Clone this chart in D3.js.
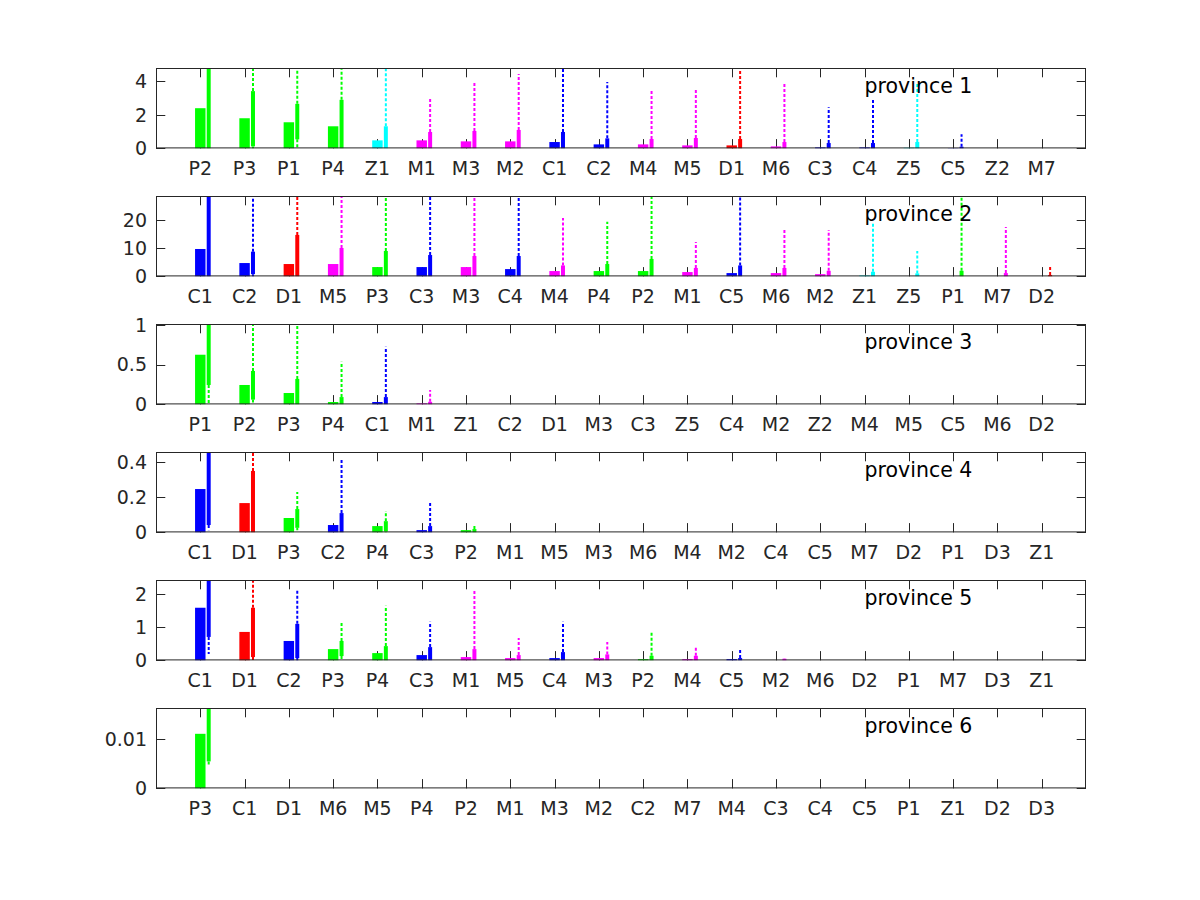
<!DOCTYPE html>
<html>
<head>
<meta charset="utf-8">
<script src="https://d3js.org/d3.v7.min.js"></script>
<style>
  html, body { margin: 0; padding: 0; background: #fff; }
  svg { display: block; }
</style>
</head>
<body>
<div id="chart"></div>
<script>
// ---------- data ----------
const provinces = ["province 1", "province 2", "province 3", "province 4", "province 5", "province 6"];

const categories = [
  ["P2","P3","P1","P4","Z1","M1","M3","M2","C1","C2","M4","M5","D1","M6","C3","C4","Z5","C5","Z2","M7"],
  ["C1","C2","D1","M5","P3","C3","M3","C4","M4","P4","P2","M1","C5","M6","M2","Z1","Z5","P1","M7","D2"],
  ["P1","P2","P3","P4","C1","M1","Z1","C2","D1","M3","C3","Z5","C4","M2","Z2","M4","M5","C5","M6","D2"],
  ["C1","D1","P3","C2","P4","C3","P2","M1","M5","M3","M6","M4","M2","C4","C5","M7","D2","P1","D3","Z1"],
  ["C1","D1","C2","P3","P4","C3","M1","M5","C4","M3","P2","M4","C5","M2","M6","D2","P1","M7","D3","Z1"],
  ["P3","C1","D1","M6","M5","P4","P2","M1","M3","M2","C2","M7","M4","C3","C4","C5","P1","Z1","D2","D3"]
];

// bar values (wide bars)
const barValues = [
  [2.4, 1.8, 1.56, 1.32, 0.48, 0.48, 0.42, 0.42, 0.38, 0.24, 0.24, 0.18, 0.18, 0.12, 0.06, 0.06, 0.04, 0.02, 0, 0],
  [9.75, 4.75, 4.4, 4.4, 3.32, 3.32, 3.32, 2.6, 1.9, 1.9, 1.9, 1.54, 1.18, 1.18, 0.8, 0.35, 0, 0, 0, 0],
  [0.624, 0.244, 0.143, 0.03, 0.03, 0.013, 0, 0, 0, 0, 0, 0, 0, 0, 0, 0, 0, 0, 0, 0],
  [0.247, 0.167, 0.082, 0.042, 0.036, 0.013, 0.013, 0, 0, 0, 0, 0, 0, 0, 0, 0, 0, 0, 0, 0],
  [1.585, 0.857, 0.585, 0.34, 0.22, 0.16, 0.1, 0.07, 0.07, 0.07, 0.04, 0.04, 0.04, 0, 0, 0, 0, 0, 0, 0],
  [0.011, 0, 0, 0, 0, 0, 0, 0, 0, 0, 0, 0, 0, 0, 0, 0, 0, 0, 0, 0]
];

// distribution: lower quartile, upper quartile, minimum, maximum
const lowerQ = [
  [0, 0.12, 0.54, 0, 0, 0, 0, 0, 0, 0, 0, 0, 0, 0, 0, 0, 0, 0, 0, 0],
  [0, 0.8, 0, 0, 0, 0, 0, 0, 0, 0, 0, 0, 0, 0, 0, 0, 0, 0, 0, 0],
  [0.244, 0.06, 0, 0, 0, 0, 0, 0, 0, 0, 0, 0, 0, 0, 0, 0, 0, 0, 0, 0],
  [0.042, 0, 0.026, 0, 0.005, 0, 0, 0, 0, 0, 0, 0, 0, 0, 0, 0, 0, 0, 0, 0],
  [0.706, 0.1, 0.07, 0.13, 0, 0, 0, 0, 0, 0, 0, 0, 0, 0, 0, 0, 0, 0, 0, 0],
  [0.00544, 0, 0, 0, 0, 0, 0, 0, 0, 0, 0, 0, 0, 0, 0, 0, 0, 0, 0, 0]
];
const upperQ = [
  [5.5, 3.42, 2.66, 2.9, 1.32, 0.98, 1.04, 1.1, 0.98, 0.6, 0.56, 0.62, 0.56, 0.38, 0.32, 0.32, 0.38, 0.1, 0, 0],
  [35, 8.8, 14.75, 10.1, 9.03, 7.6, 7.25, 7.25, 3.9, 4.4, 6.2, 3.0, 3.9, 3.0, 2.0, 1.65, 1.07, 2.0, 1.18, 0.5],
  [1.5, 0.42, 0.32, 0.092, 0.092, 0.033, 0, 0, 0, 0, 0, 0, 0, 0, 0, 0, 0, 0, 0, 0],
  [0.7, 0.35, 0.133, 0.11, 0.064, 0.036, 0.019, 0, 0, 0, 0, 0, 0, 0, 0, 0, 0, 0, 0, 0],
  [3.0, 1.585, 1.1, 0.585, 0.43, 0.4, 0.34, 0.16, 0.25, 0.18, 0.14, 0.14, 0.07, 0.05, 0, 0, 0, 0, 0, 0],
  [0.03, 0, 0, 0, 0, 0, 0, 0, 0, 0, 0, 0, 0, 0, 0, 0, 0, 0, 0, 0]
];
const minValues = [
  [0, 0, 0, 0, 0, 0, 0, 0, 0, 0, 0, 0, 0, 0, 0, 0, 0, 0, 0, 0],
  [0, 0, 0, 0, 0, 0, 0, 0, 0, 0, 0, 0, 0, 0, 0, 0, 0, 0, 0, 0],
  [0, 0, 0, 0, 0, 0, 0, 0, 0, 0, 0, 0, 0, 0, 0, 0, 0, 0, 0, 0],
  [0.012, 0, 0.012, 0, 0, 0, 0, 0, 0, 0, 0, 0, 0, 0, 0, 0, 0, 0, 0, 0],
  [0.19, 0, 0, 0, 0, 0, 0, 0, 0, 0, 0, 0, 0, 0, 0, 0, 0, 0, 0, 0],
  [0.0045, 0, 0, 0, 0, 0, 0, 0, 0, 0, 0, 0, 0, 0, 0, 0, 0, 0, 0, 0]
];
const maxValues = [
  [6, 6, 6, 6, 6, 3.0, 3.96, 4.44, 6, 3.96, 3.48, 3.48, 6, 3.96, 2.46, 2.94, 3.96, 0.84, 0, 0],
  [40, 35, 35, 35, 35, 35, 35, 35, 20.8, 19.4, 35, 12.25, 35, 16.5, 16.5, 19.4, 9.03, 35, 17.6, 3.6],
  [2, 1.5, 1.5, 0.535, 0.725, 0.18, 0, 0, 0, 0, 0, 0, 0, 0, 0, 0, 0, 0, 0, 0],
  [0.8, 0.7, 0.23, 0.419, 0.122, 0.173, 0.036, 0, 0, 0, 0, 0, 0, 0, 0, 0, 0, 0, 0, 0],
  [3.5, 3.0, 2.13, 1.16, 1.645, 1.16, 2.13, 0.676, 1.16, 0.555, 0.89, 0.43, 0.31, 0.06, 0, 0, 0, 0, 0, 0],
  [0.04, 0, 0, 0, 0, 0, 0, 0, 0, 0, 0, 0, 0, 0, 0, 0, 0, 0, 0, 0]
];

const yMax = [4.8, 28.6, 1.01, 0.458, 2.42, 0.0162];
const yTicks = [[0, 2, 4], [0, 10, 20], [0, 0.5, 1], [0, 0.2, 0.4], [0, 1, 2], [0, 0.01]];

const groupColors = { P: "#00ff00", Z: "#00ffff", M: "#ff00ff", C: "#0000ff", D: "#ff0000" };

// ---------- layout ----------
const W = 1200, H = 900;
const left = 156, right = 1086;
const top0 = 68, step = 128, ph = 80.4;
const tickLen = 9.3;
const axisColor = "#262626";
const fontFam = "'DejaVu Sans', sans-serif";

const svg = d3.select("#chart").append("svg")
  .attr("width", W).attr("height", H)
  .style("background", "#fff");

const x = d3.scaleLinear().domain([0, 21]).range([left, right]);
const barHalf = 0.118;   // data units
const boxOff = 0.19;
const boxHalf = 0.045;

provinces.forEach((name, p) => {
  const top = top0 + step * p;
  const bottom = top + ph;
  const y = d3.scaleLinear().domain([0, yMax[p]]).range([bottom, top]);
  const g = svg.append("g");

  const clipId = "clip" + p;
  svg.append("defs").append("clipPath").attr("id", clipId)
    .append("rect").attr("x", left).attr("y", top).attr("width", right - left).attr("height", ph);

  // tick marks (under data)
  const xt = d3.range(1, 21);
  const tg = g.append("g").attr("stroke", axisColor).attr("stroke-width", 1);
  xt.forEach(k => {
    const xx = Math.round(x(k)) + 0.5;
    tg.append("line").attr("x1", xx).attr("x2", xx).attr("y1", bottom).attr("y2", bottom - tickLen);
    tg.append("line").attr("x1", xx).attr("x2", xx).attr("y1", top).attr("y2", top + tickLen);
  });
  yTicks[p].forEach(v => {
    const yy = Math.round(y(v)) + 0.5;
    tg.append("line").attr("x1", left).attr("x2", left + tickLen).attr("y1", yy).attr("y2", yy);
    tg.append("line").attr("x1", right).attr("x2", right - tickLen).attr("y1", yy).attr("y2", yy);
  });

  // data
  const dg = g.append("g").attr("clip-path", `url(#${clipId})`);
  categories[p].forEach((c, i) => {
    const k = i + 1;
    const col = groupColors[c[0]];
    const bv = barValues[p][i];
    if (bv > 0) {
      dg.append("rect")
        .attr("x", x(k - barHalf)).attr("width", x(k + barHalf) - x(k - barHalf))
        .attr("y", y(bv)).attr("height", y(0) - y(bv))
        .attr("fill", col);
    }
    const q1 = lowerQ[p][i], q3 = upperQ[p][i], lo = minValues[p][i], hi = maxValues[p][i];
    const cx = x(k + boxOff);
    if (hi > q3) {
      dg.append("line").attr("x1", cx).attr("x2", cx)
        .attr("y1", y(q3)).attr("y2", y(hi))
        .attr("stroke", col).attr("stroke-width", 2).attr("stroke-dasharray", "3,2");
    }
    if (q1 > lo) {
      dg.append("line").attr("x1", cx).attr("x2", cx)
        .attr("y1", y(q1)).attr("y2", y(lo))
        .attr("stroke", col).attr("stroke-width", 2).attr("stroke-dasharray", "3,2");
    }
    if (q3 > q1) {
      dg.append("rect")
        .attr("x", x(k + boxOff - boxHalf)).attr("width", x(k + boxOff + boxHalf) - x(k + boxOff - boxHalf))
        .attr("y", y(q3)).attr("height", y(q1) - y(q3))
        .attr("fill", col);
    }
  });

  // box border
  g.append("rect").attr("x", left + 0.5).attr("y", top + 0.5)
    .attr("width", right - left - 1).attr("height", ph - 1)
    .attr("fill", "none").attr("stroke", axisColor).attr("stroke-width", 1);

  // tick labels
  categories[p].forEach((c, i) => {
    g.append("text").attr("x", x(i + 1)).attr("y", bottom + 27)
      .attr("text-anchor", "middle").attr("font-family", fontFam).attr("font-size", 19)
      .attr("fill", axisColor).text(c);
  });
  yTicks[p].forEach(v => {
    g.append("text").attr("x", left - 9).attr("y", y(v)).attr("dy", "0.36em")
      .attr("text-anchor", "end").attr("font-family", fontFam).attr("font-size", 19)
      .attr("fill", axisColor).text(String(v));
  });

  // province label
  g.append("text").attr("x", x(16)).attr("y", top + 24.5)
    .attr("font-family", fontFam).attr("font-size", 20.5)
    .attr("fill", "#000").text(name);
});
</script>
</body>
</html>
